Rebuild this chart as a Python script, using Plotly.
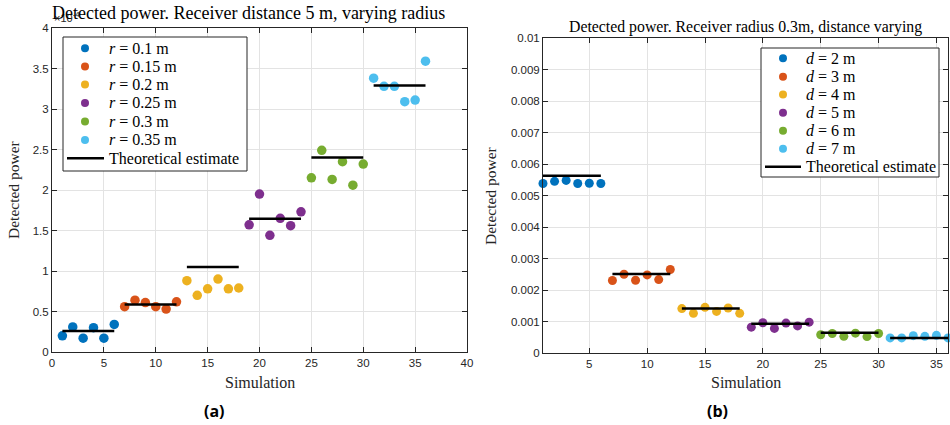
import plotly.graph_objects as go

# ---------------- data ----------------
colors = ["#0072BD", "#D95319", "#EDB120", "#7E2F8E", "#77AC30", "#4DBEEE"]

radius_labels = ["0.1", "0.15", "0.2", "0.25", "0.3", "0.35"]
distance_labels = ["2", "3", "4", "5", "6", "7"]

sim_groups = [
    [1, 2, 3, 4, 5, 6],
    [7, 8, 9, 10, 11, 12],
    [13, 14, 15, 16, 17, 18],
    [19, 20, 21, 22, 23, 24],
    [25, 26, 27, 28, 29, 30],
    [31, 32, 33, 34, 35, 36],
]

# (a) detected power, units of 1e-4
power_a = [
    [0.20, 0.31, 0.17, 0.30, 0.17, 0.34],
    [0.56, 0.64, 0.61, 0.56, 0.53, 0.62],
    [0.88, 0.70, 0.78, 0.90, 0.78, 0.79],
    [1.57, 1.95, 1.44, 1.65, 1.56, 1.73],
    [2.15, 2.49, 2.13, 2.35, 2.06, 2.32],
    [3.38, 3.28, 3.28, 3.09, 3.11, 3.59],
]
theory_a = [0.26, 0.585, 1.05, 1.645, 2.40, 3.29]

# (b) detected power
power_b = [
    [0.00538, 0.00545, 0.00548, 0.00538, 0.00539, 0.00538],
    [0.00230, 0.00250, 0.00231, 0.00248, 0.00233, 0.00265],
    [0.00141, 0.00126, 0.00145, 0.00132, 0.00143, 0.00126],
    [0.00082, 0.00096, 0.00078, 0.00095, 0.00086, 0.00098],
    [0.00058, 0.00062, 0.00053, 0.00063, 0.00052, 0.00062],
    [0.00048, 0.00048, 0.00055, 0.00053, 0.00056, 0.00048],
]
theory_b = [0.00563, 0.00251, 0.00141, 0.00093, 0.00064, 0.00048]

ticks_a_y = [0, 0.5, 1, 1.5, 2, 2.5, 3, 3.5, 4]
ticks_a_y_text = ["0", "0.5", "1", "1.5", "2", "2.5", "3", "3.5", "4"]
ticks_a_x = [0, 5, 10, 15, 20, 25, 30, 35, 40]
ticks_b_y = [0, 0.001, 0.002, 0.003, 0.004, 0.005, 0.006, 0.007, 0.008, 0.009, 0.01]
ticks_b_y_text = ["0", "0.001", "0.002", "0.003", "0.004", "0.005", "0.006",
                  "0.007", "0.008", "0.009", "0.01"]
ticks_b_x = [5, 10, 15, 20, 25, 30, 35]

legend_a_labels = [f"<i>r</i> = {r} m" for r in radius_labels] + ["Theoretical estimate"]
legend_b_labels = [f"<i>d</i> = {d} m" for d in distance_labels] + ["Theoretical estimate"]

# ---------------- figure ----------------
W, H = 950, 425
SERIF = "Liberation Serif, Times New Roman, serif"
SANS = "Liberation Sans, Arial, sans-serif"
AXC = "#262626"


def px(x):
    return x / W


def py(y):
    return 1 - y / H


fig = go.Figure()

for i in range(6):
    fig.add_trace(go.Scatter(
        x=sim_groups[i], y=power_a[i], mode="markers",
        marker=dict(color=colors[i], size=9.5, line=dict(width=0)),
        name=legend_a_labels[i], showlegend=False,
        xaxis="x", yaxis="y", cliponaxis=False))
for i in range(6):
    fig.add_trace(go.Scatter(
        x=[sim_groups[i][0], sim_groups[i][-1]], y=[theory_a[i], theory_a[i]],
        mode="lines", line=dict(color="black", width=2.5),
        name="Theoretical estimate", showlegend=False,
        xaxis="x", yaxis="y"))

for i in range(6):
    fig.add_trace(go.Scatter(
        x=sim_groups[i], y=power_b[i], mode="markers",
        marker=dict(color=colors[i], size=9, line=dict(width=0)),
        name=legend_b_labels[i], showlegend=False,
        xaxis="x2", yaxis="y2", cliponaxis=False))
for i in range(6):
    fig.add_trace(go.Scatter(
        x=[sim_groups[i][0], sim_groups[i][-1]], y=[theory_b[i], theory_b[i]],
        mode="lines", line=dict(color="black", width=2.5),
        name="Theoretical estimate", showlegend=False,
        xaxis="x2", yaxis="y2"))

axis_common = dict(
    showline=True, linecolor=AXC, linewidth=1, mirror="ticks",
    ticks="inside", ticklen=5, tickcolor=AXC, tickwidth=1,
    showgrid=True, gridcolor="#e3e3e3", gridwidth=1, zeroline=False,
    automargin=False,
    tickfont=dict(family=SANS, size=11.5, color=AXC),
)

fig.update_layout(
    width=W, height=H,
    margin=dict(l=0, r=0, t=0, b=0, autoexpand=False),
    paper_bgcolor="white", plot_bgcolor="white",
    showlegend=False,
    xaxis=dict(domain=[px(52), px(467)], range=[0, 40], tickvals=ticks_a_x,
               anchor="y", **axis_common),
    yaxis=dict(domain=[py(352), py(28)], range=[0, 4], tickvals=ticks_a_y,
               ticktext=ticks_a_y_text, anchor="x", **axis_common),
    xaxis2=dict(domain=[px(543), px(948)], range=[1, 36], tickvals=ticks_b_x,
                anchor="y2", **axis_common),
    yaxis2=dict(domain=[py(353), py(38)], range=[0, 0.01], tickvals=ticks_b_y,
                ticktext=ticks_b_y_text, anchor="x2", **axis_common),
)

shapes = []
annotations = []


def build_legend(box, rows_y, marker_x, line_x0, line_x1, text_x, labels):
    x0, y0, x1, y1 = box
    shapes.append(dict(type="rect", xref="paper", yref="paper",
                       x0=px(x0), x1=px(x1), y0=py(y1), y1=py(y0),
                       line=dict(color=AXC, width=1), fillcolor="white",
                       layer="above"))
    for i, lab in enumerate(labels):
        yc = rows_y[i]
        if i < 6:
            shapes.append(dict(type="circle", xref="paper", yref="paper",
                               xsizemode="pixel", ysizemode="pixel",
                               xanchor=px(marker_x), yanchor=py(yc),
                               x0=-4, x1=4, y0=-4, y1=4,
                               fillcolor=colors[i], line=dict(width=0),
                               layer="above"))
        else:
            shapes.append(dict(type="line", xref="paper", yref="paper",
                               x0=px(line_x0), x1=px(line_x1), y0=py(yc), y1=py(yc),
                               line=dict(color="black", width=2.5), layer="above"))
        annotations.append(dict(text=lab, x=px(text_x), y=py(yc), xanchor="left",
                                yanchor="middle",
                                font=dict(family=SERIF, size=16, color="black")))


build_legend((63, 37, 247, 171), [48.3, 66.5, 84.5, 103, 121.5, 140, 158.3],
             85, 67, 104, 107, legend_a_labels)
build_legend((761, 48, 939, 177), [58.3, 76.7, 94.5, 112.7, 130.7, 148.7, 166.7],
             783, 765, 801, 804, legend_b_labels)

annotations += [
    dict(text="×10<sup>-4</sup>", x=px(52), y=py(17), xanchor="left", yanchor="middle",
         font=dict(family=SANS, size=11, color=AXC)),
    dict(text="Detected power. Receiver distance 5 m, varying radius",
         x=px(248), y=py(13), xanchor="center", yanchor="middle",
         font=dict(family=SERIF, size=18, color="black")),
    dict(text="Detected power. Receiver radius 0.3m, distance varying",
         x=px(745.5), y=py(27), xanchor="center", yanchor="middle",
         font=dict(family=SERIF, size=15.8, color="black")),
    dict(text="Simulation", x=px(260), y=py(382), xanchor="center", yanchor="middle",
         font=dict(family=SERIF, size=16, color=AXC)),
    dict(text="Simulation", x=px(746), y=py(382), xanchor="center", yanchor="middle",
         font=dict(family=SERIF, size=16, color=AXC)),
    dict(text="Detected power", x=px(14), y=py(190), xanchor="center", yanchor="middle",
         textangle=-90, font=dict(family=SERIF, size=15.5, color=AXC)),
    dict(text="Detected power", x=px(490), y=py(196), xanchor="center", yanchor="middle",
         textangle=-90, font=dict(family=SERIF, size=15.5, color=AXC)),
    dict(text="<b>(a)</b>", x=px(214), y=py(411), xanchor="center", yanchor="middle",
         font=dict(family="Open Sans, sans-serif", size=16, color="black")),
    dict(text="<b>(b)</b>", x=px(717), y=py(411), xanchor="center", yanchor="middle",
         font=dict(family="Open Sans, sans-serif", size=16, color="black")),
]
for a in annotations:
    a.update(xref="paper", yref="paper", showarrow=False)
fig.update_layout(annotations=annotations, shapes=shapes)

fig.write_html("out.html",
               config={"displayModeBar": False},
               post_script="document.body.style.margin='0';document.body.style.overflow='hidden';")
